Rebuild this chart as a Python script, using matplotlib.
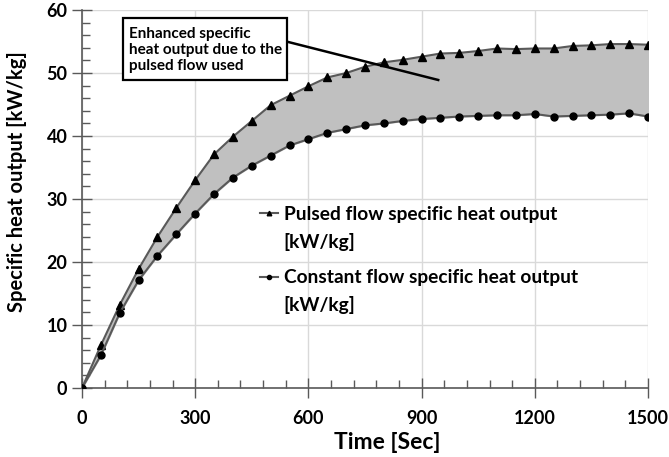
import matplotlib
matplotlib.use("Agg")
import matplotlib.pyplot as plt
from matplotlib.patches import Rectangle
from matplotlib.ticker import MultipleLocator

plt.rcParams['font.family'] = ['Lato', 'DejaVu Sans']
plt.rcParams['font.weight'] = 'bold'

time_s = [0, 50, 100, 150, 200, 250, 300, 350, 400, 450, 500, 550, 600, 650, 700, 750,
          800, 850, 900, 950, 1000, 1050, 1100, 1150, 1200, 1250, 1300, 1350, 1400, 1450, 1500]
pulsed = [0, 6.8, 13.2, 18.9, 24.0, 28.6, 33.0, 37.1, 39.9, 42.4, 44.9, 46.4, 47.9, 49.3, 50.0, 51.0,
          51.7, 52.1, 52.6, 53.1, 53.2, 53.5, 53.9, 53.8, 53.9, 53.9, 54.3, 54.4, 54.6, 54.6, 54.5]
constant = [0, 5.2, 11.9, 17.1, 21.0, 24.4, 27.7, 30.8, 33.4, 35.3, 36.9, 38.5, 39.5, 40.5, 41.1, 41.7,
            42.0, 42.4, 42.7, 42.9, 43.1, 43.2, 43.3, 43.3, 43.5, 43.1, 43.2, 43.3, 43.4, 43.6, 43.1]

fig = plt.figure(figsize=(6.69, 4.57), dpi=100)
ax = fig.add_axes([0.1226, 0.151, 0.846, 0.827])

ax.fill_between(time_s, constant, pulsed, color="#c0c0c0", zorder=1)
ax.plot(time_s, pulsed, color="#595959", lw=1.5, marker="^", ms=5.5, mfc="black", mec="black",
        label="Pulsed flow specific heat output", zorder=3)
ax.plot(time_s, constant, color="#595959", lw=1.5, marker="o", ms=5, mfc="black", mec="black",
        label="Constant flow specific heat output", zorder=3)

ax.set_xlim(0, 1500)
ax.set_ylim(0, 60)
ax.xaxis.set_major_locator(MultipleLocator(300))
ax.xaxis.set_minor_locator(MultipleLocator(60))
ax.yaxis.set_major_locator(MultipleLocator(10))
ax.yaxis.set_minor_locator(MultipleLocator(2))
ax.grid(True, which="major", color="#d9d9d9", lw=1, zorder=0)
ax.set_axisbelow(True)

for s in ["top", "right"]:
    ax.spines[s].set_visible(False)
for s in ["left", "bottom"]:
    ax.spines[s].set_color("#595959")
    ax.spines[s].set_linewidth(1.2)
ax.tick_params(which="major", direction="inout", length=14, width=1, color="#595959", labelsize=13)
ax.tick_params(axis="x", which="major", pad=9)
ax.tick_params(which="minor", direction="in", length=6, width=1, color="#595959")
for lab in ax.get_xticklabels() + ax.get_yticklabels():
    lab.set_fontweight("bold")

ax.set_xlabel("Time [Sec]", fontsize=16.5, fontweight="bold")
ax.xaxis.set_label_coords(0.54, -0.117)
ax.set_ylabel("Specific heat output [kW/kg]", fontsize=14.5, fontweight="bold")
ax.yaxis.set_label_coords(-0.097, 0.545)

# annotation box with pointer line
ax.plot([542, 944], [55.0, 48.9], color="black", lw=1.8, zorder=4)
ax.add_patch(Rectangle((108, 48.9), 434, 9.8, fc="white", ec="black", lw=1.6, zorder=5))
ax.text(125, 53.7, "Enhanced specific\nheat output due to the\npulsed flow used",
        fontsize=11, fontweight="bold", va="center", ha="left", linespacing=1.2, zorder=6)

leg = ax.legend(loc="upper left", bbox_to_anchor=(0.314, 0.482), frameon=False, fontsize=13.8,
                handlelength=0.95, handletextpad=0.3, labelspacing=2.42, markerscale=0.6,
                borderpad=0, borderaxespad=0)
for t in leg.get_texts():
    t.set_fontweight("bold")

# second line of each legend label, aligned under the first
fig.canvas.draw()
for t in leg.get_texts():
    bb = t.get_window_extent()
    fig.text(bb.x0 / fig.bbox.width, (bb.y0 - 28) / fig.bbox.height, "[kW/kg]",
             fontsize=13.8, fontweight="bold", ha="left", va="bottom")

fig.savefig("out.png", dpi=100)
